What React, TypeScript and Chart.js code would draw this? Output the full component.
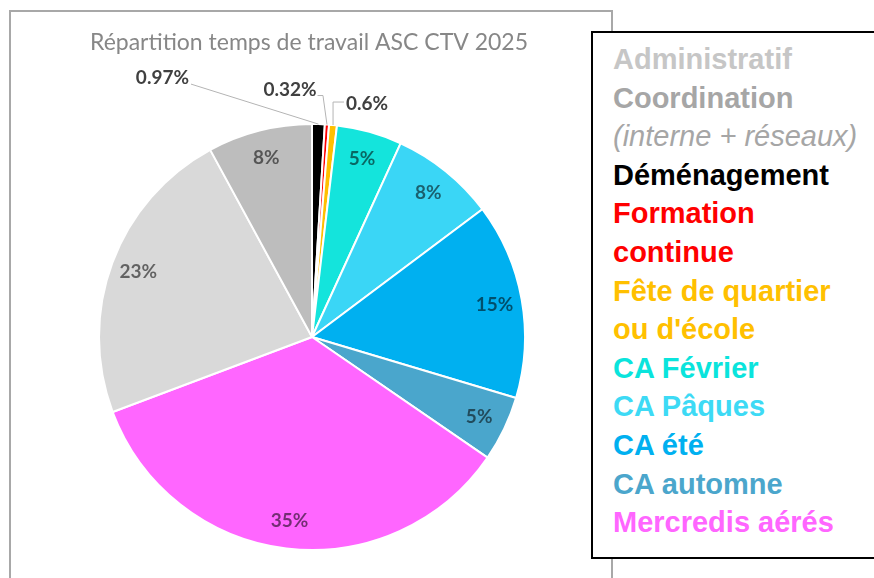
import React, { useEffect, useRef } from "react";
import { Chart, registerables } from "chart.js";

Chart.register(...registerables);

const TITLE = "Répartition temps de travail ASC CTV 2025";

const categories = [
  "Déménagement",
  "Formation\ncontinue",
  "Fête de quartier\nou d'école",
  "CA Février",
  "CA Pâques",
  "CA été",
  "CA automne",
  "Mercredis aérés",
  "Administratif",
  "Coordination\n(interne + réseaux)",
];

const values = [0.97, 0.32, 0.6, 5, 8, 15, 5, 35, 23, 8];

const sliceColors = [
  "#000000",
  "#ff0000",
  "#ffc000",
  "#14e4dc",
  "#3ad6f6",
  "#00b0f0",
  "#4aa6cc",
  "#ff66ff",
  "#d9d9d9",
  "#bdbdbd",
];

const legendColors = [
  "#000000",
  "#ff0000",
  "#ffc000",
  "#0ae4dc",
  "#3ddaf5",
  "#00b0f0",
  "#4ba6cc",
  "#ff66ff",
  "#c6c6c6",
  "#a6a6a6",
];

const legendOrder = [8, 9, 0, 1, 2, 3, 4, 5, 6, 7];

// label offsets (px) from the slice's outer edge for slices too thin to hold a label
const outsideLabelOffsets: Record<number, [number, number]> = {
  0: [-156, -46],
  1: [-37, -35],
  2: [34, -21],
};

const labelPlugin = {
  id: "sliceLabels",
  afterDatasetsDraw(chart: any) {
    const ctx: CanvasRenderingContext2D = chart.ctx;
    const meta = chart.getDatasetMeta(0);
    ctx.save();
    ctx.font = "bold 19px Lato";
    ctx.textAlign = "center";
    ctx.textBaseline = "middle";
    meta.data.forEach((arc: any, i: number) => {
      const p = arc.getProps(["x", "y", "startAngle", "endAngle", "outerRadius"], true);
      const mid = (p.startAngle + p.endAngle) / 2;
      const text = values[i] + "%";
      const off = outsideLabelOffsets[i];
      if (off) {
        const ax = p.x + Math.cos(mid) * p.outerRadius;
        const ay = p.y + Math.sin(mid) * p.outerRadius;
        const lx = ax + off[0];
        const ly = ay + off[1];
        const w = ctx.measureText(text).width;
        ctx.strokeStyle = "#b4b4b4";
        ctx.lineWidth = 1;
        ctx.beginPath();
        ctx.moveTo(ax, ay);
        if (Math.abs(off[0]) > 80) {
          ctx.lineTo(lx + w / 2 + 2, ly + 6);
        } else if (off[0] < 0) {
          ctx.lineTo(ax - 4, ly + 6);
          ctx.lineTo(lx + w / 2 + 1, ly + 6);
        } else {
          ctx.lineTo(ax, ly - 2);
          ctx.lineTo(lx - w / 2 - 2, ly - 2);
        }
        ctx.stroke();
        ctx.fillStyle = "#404040";
        ctx.fillText(text, lx, ly);
      } else {
        const r = p.outerRadius * 0.87;
        ctx.fillStyle = "rgba(0,0,0,0.55)";
        ctx.fillText(text, p.x + Math.cos(mid) * r, p.y + Math.sin(mid) * r);
      }
    });
    ctx.restore();
  },
};

const titlePlugin = {
  id: "customTitle",
  afterDraw(chart: any) {
    const ctx: CanvasRenderingContext2D = chart.ctx;
    ctx.save();
    ctx.font = "23px Lato";
    ctx.fillStyle = "#878787";
    ctx.textAlign = "center";
    ctx.textBaseline = "alphabetic";
    ctx.fillText(TITLE, 309, 50);
    ctx.restore();
  },
};

export default function App() {
  const canvasRef = useRef<HTMLCanvasElement | null>(null);

  useEffect(() => {
    if (!canvasRef.current) return;
    const chart = new Chart(canvasRef.current, {
      type: "pie",
      data: {
        labels: categories,
        datasets: [
          {
            data: values,
            backgroundColor: sliceColors,
            borderColor: "#ffffff",
            borderWidth: 2,
          },
        ],
      },
      options: {
        responsive: false,
        animation: false,
        layout: { padding: { left: 98, right: 348, top: 123, bottom: 27 } },
        plugins: {
          legend: { display: false },
          title: { display: false },
          tooltip: { enabled: false },
        },
      },
      plugins: [labelPlugin, titlePlugin],
    });
    return () => chart.destroy();
  }, []);

  return (
    <div
      style={{
        position: "absolute",
        left: 0,
        top: 0,
        width: 874,
        height: 578,
        overflow: "hidden",
        background: "#ffffff",
      }}
    >
      <div
        style={{
          position: "absolute",
          left: 9,
          top: 10,
          width: 600,
          height: 700,
          border: "2px solid #a8a8a8",
        }}
      />
      <canvas
        ref={canvasRef}
        width={874}
        height={578}
        style={{ position: "absolute", left: 0, top: 0 }}
      />
      <div
        style={{
          position: "absolute",
          left: 591,
          top: 31,
          width: 320,
          height: 517,
          border: "2px solid #000000",
          background: "#ffffff",
          boxSizing: "content-box",
          paddingTop: 7,
          paddingLeft: 20,
          fontFamily: "'Liberation Sans', Arial, sans-serif",
          fontSize: 29,
          lineHeight: "38.6px",
          whiteSpace: "nowrap",
        }}
      >
        {legendOrder.map((idx) =>
          categories[idx].split("\n").map((line, j) => {
            const italic = line.startsWith("(");
            return (
              <div
                key={idx + "-" + j}
                style={{
                  color: legendColors[idx],
                  fontWeight: italic ? "normal" : "bold",
                  fontStyle: italic ? "italic" : "normal",
                }}
              >
                {line}
              </div>
            );
          })
        )}
      </div>
    </div>
  );
}
